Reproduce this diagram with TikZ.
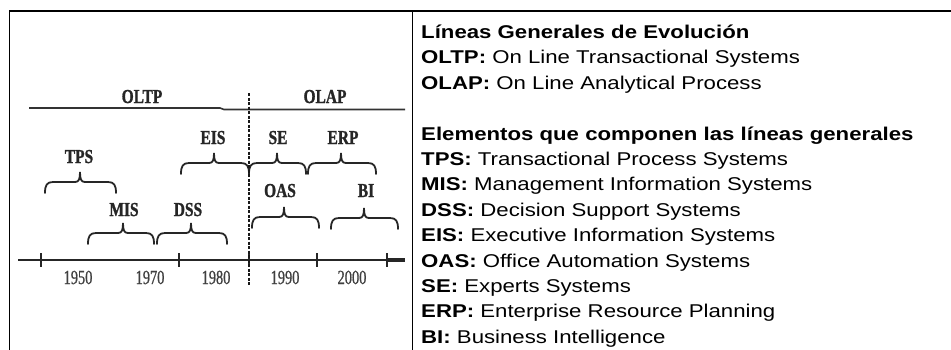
\documentclass[tikz,border=0pt]{standalone}
\usepackage{fontspec}
\setmainfont{Liberation Sans}
\newfontfamily\listfont{Liberation Sans}[FakeStretch=1.2]
\newfontfamily\labfont{Liberation Serif}[FakeStretch=0.78, BoldFeatures={FakeBold=1.2}]
\newfontfamily\yearfont{Liberation Serif}[FakeStretch=0.72, FakeBold=0.8]
\newcommand\bracket[4]{%
  \draw[brcline] (#1,#4+11) .. controls (#1,#4+3) and (#1+2,#4) .. (#1+8,#4)
    -- (#2-5,#4) .. controls (#2-1,#4) and (#2,#4-3) .. (#2,#4-10)
    .. controls (#2,#4-3) and (#2+1,#4) .. (#2+5,#4)
    -- (#3-8,#4) .. controls (#3-2,#4) and (#3,#4+3) .. (#3,#4+11);}
\begin{document}
\begin{tikzpicture}[x=1pt,y=-1pt,
    lab/.style={font=\labfont\bfseries\fontsize{19.8}{20}\selectfont, text=black!85, inner sep=0pt, anchor=base},
    yearlab/.style={font=\yearfont\fontsize{20}{20}\selectfont, text=black!75, inner sep=0pt, anchor=base},
    brcline/.style={line width=1.8pt, draw=black!85, line cap=round},
    entry/.style={font=\listfont\fontsize{18.5}{25.4}\selectfont, inner sep=0pt, anchor=base west}]
  \useasboundingbox (0,0) rectangle (951,349);
  \draw[line width=1.6pt] (9.5,360) -- (9.5,11) -- (960,11);
  \draw[line width=1.6pt] (412.5,11) -- (412.5,360);

  \node[entry] (head1) at (421,38.3) {\bfseries Líneas Generales de Evolución};
  \foreach \ab/\desc [count=\i] in {OLTP/On Line Transactional Systems,
      OLAP/On Line Analytical Process}
    \node[entry] (line\i) at (421,{38.3+25.4*\i}) {\textbf{\ab:} \desc};
  \node[entry] (head2) at (421,140) {\bfseries Elementos que componen las líneas generales};
  \foreach \ab/\desc [count=\i] in {TPS/Transactional Process Systems,
      MIS/Management Information Systems, DSS/Decision Support Systems,
      EIS/Executive Information Systems, OAS/Office Automation Systems,
      SE/Experts Systems, ERP/Enterprise Resource Planning,
      BI/Business Intelligence}
    \node[entry] (elem\i) at (421,{140+25.4*\i}) {\textbf{\ab:} \desc};

  \draw[line width=1.6pt, black!80] (29,108) -- (220,108) -- (224,109.5) -- (405,109.5);
  \node[lab] (oltp) at (142,103) {OLTP};
  \node[lab] (olap) at (325,103) {OLAP};

  \node[lab] (tps) at (79,163) {TPS};
  \node[lab] (mis) at (124,216) {MIS};
  \node[lab] (dss) at (188,216) {DSS};
  \node[lab] (eis) at (213,144) {EIS};
  \node[lab] (se) at (278,144) {SE};
  \node[lab] (erp) at (343,144) {ERP};
  \node[lab] (oas) at (280,197) {OAS};
  \node[lab] (bi) at (366,197) {BI};

  \bracket{45}{80}{116}{182}
  \bracket{88}{123}{154}{233}
  \bracket{157}{191}{227}{233}
  \bracket{181}{214}{249}{163}
  \bracket{249}{277}{306}{163}
  \bracket{308}{341}{376}{163}
  \bracket{252}{284}{319}{217}
  \bracket{331}{364}{398}{218}

  \draw[line width=2.4pt, black!85] (18,260) -- (405,260);
  \draw[line width=4pt, black!85] (387,260) -- (405,260);
  \foreach \x in {41,179,249,317,387}
    \draw[line width=1.8pt, black!85] (\x,253) -- (\x,267);
  \foreach \x/\yr in {78/1950,150/1970,216/1980,285/1990,352/2000}
    \node[yearlab] (y\yr) at (\x,284) {\yr};

  \draw[line width=2.8pt, black!90, dash pattern=on 3pt off 1.5pt] (249,93) -- (249,286);
\end{tikzpicture}
\end{document}
